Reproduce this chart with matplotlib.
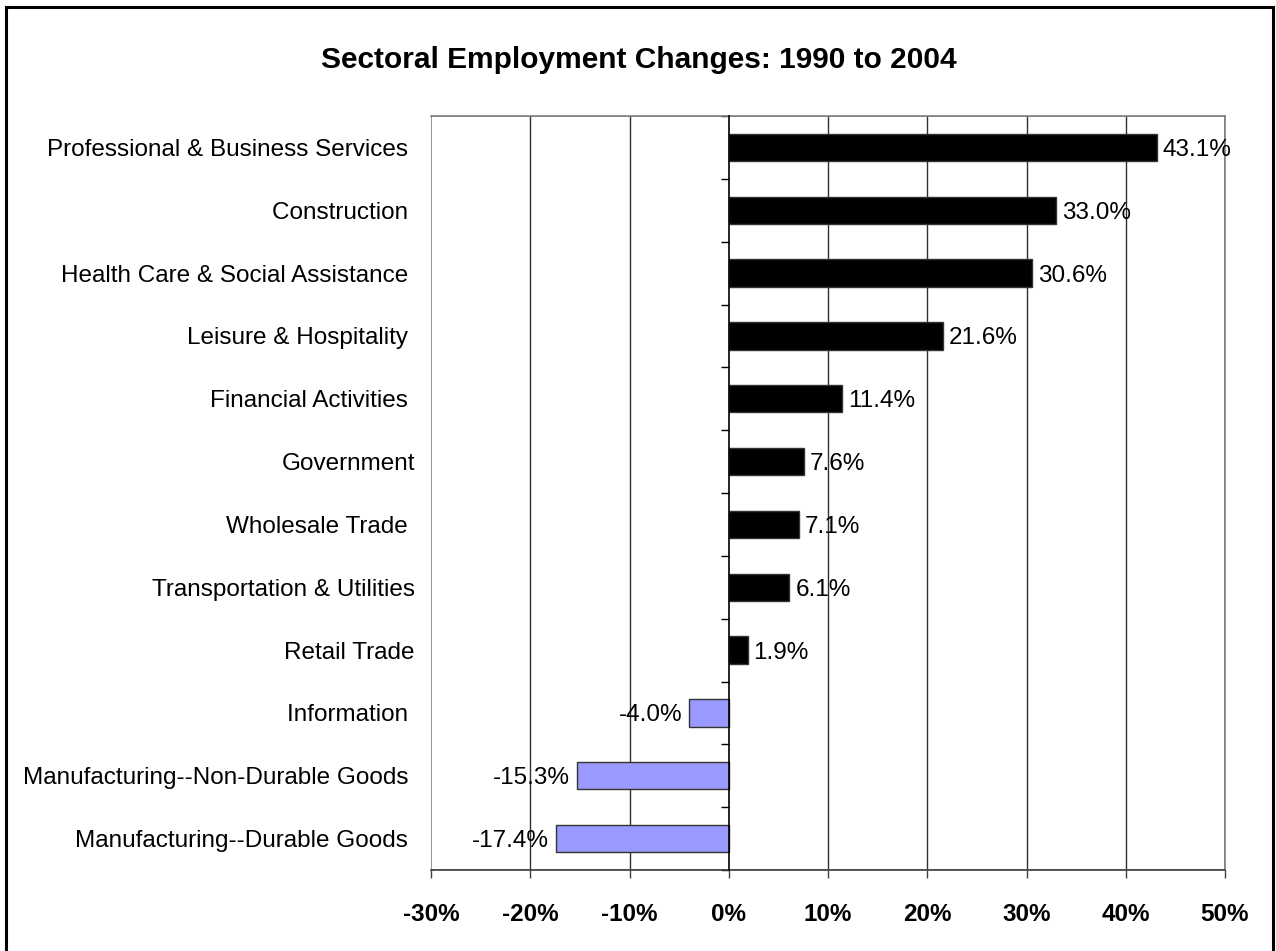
import matplotlib
matplotlib.use("Agg")
import matplotlib.pyplot as plt
from matplotlib.patches import Rectangle
from matplotlib.ticker import FuncFormatter
import numpy as np

plt.rcParams['font.family'] = ['Liberation Sans', 'DejaVu Sans']

# Sectors listed top to bottom, with percent change in employment 1990-2004
sectors = [
    "Professional & Business Services ",
    "Construction ",
    "Health Care & Social Assistance ",
    "Leisure & Hospitality ",
    "Financial Activities ",
    "Government",
    "Wholesale Trade ",
    "Transportation & Utilities",
    "Retail Trade",
    "Information ",
    "Manufacturing--Non-Durable Goods ",
    "Manufacturing--Durable Goods ",
]
changes = [43.1, 33.0, 30.6, 21.6, 11.4, 7.6, 7.1, 6.1, 1.9, -4.0, -15.3, -17.4]
x_ticks = [-30, -20, -10, 0, 10, 20, 30, 40, 50]

title = "Sectoral Employment Changes: 1990 to 2004"

W, H = 1276, 951
fig = plt.figure(figsize=(W / 100, H / 100), dpi=100)
fig.patch.set_facecolor("white")

# outer chart border (runs past the lower edge of the image)
fig.add_artist(Rectangle((6 / W, -20 / H), (1273 - 6) / W, (944 + 20) / H,
                         transform=fig.transFigure, fill=False,
                         edgecolor="black", linewidth=2.2))

ax_l, ax_r, ax_t, ax_b = 431, 1225, 116, 870
ax = fig.add_axes([ax_l / W, 1 - ax_b / H, (ax_r - ax_l) / W, (ax_b - ax_t) / H])

n = len(sectors)
ypos = np.arange(n)
colors = ["black" if v >= 0 else "#9999FF" for v in changes]
ax.barh(ypos, changes, height=0.435, color=colors, edgecolor="#333333",
        linewidth=1.0, zorder=3)

ax.set_xlim(x_ticks[0], x_ticks[-1])
ax.set_ylim(n - 0.5, -0.5)

# vertical gridlines
for xt in x_ticks[1:-1]:
    if xt != 0:
        ax.axvline(xt, color="#303030", linewidth=1.0, zorder=1)

# spines: frame drawn in gray, value axis at zero
for s in ["top", "right", "bottom"]:
    ax.spines[s].set_color("#808080")
    ax.spines[s].set_linewidth(1.2)
ax.spines["bottom"].set_color("#404040")
ax.spines["left"].set_position(("data", 0))
ax.spines["left"].set_color("black")
ax.spines["left"].set_linewidth(1.2)
ax.spines["left"].set_zorder(4)
ax.add_patch(Rectangle((0, 0), 1, 1, transform=ax.transAxes, fill=False,
                       edgecolor="#808080", linewidth=1.2, zorder=0.5))

# category boundary ticks on the zero axis
ax.set_yticks(np.arange(-0.5, n, 1.0))
ax.set_yticklabels([])
ax.tick_params(axis="y", direction="out", length=6, width=1.0, color="black")

ax.set_xticks(x_ticks)
ax.xaxis.set_major_formatter(FuncFormatter(lambda v, p: f"{v:.0f}%"))
ax.tick_params(axis="x", direction="out", length=6, width=1.0,
               color="#404040", pad=18, labelsize=17.5)
for lab in ax.get_xticklabels():
    lab.set_fontweight("bold")

# category names to the left of the plot area
for y, name in zip(ypos, sectors):
    ax.annotate(name, xy=(0, y), xycoords=("axes fraction", "data"),
                xytext=(-16, 0), textcoords="offset pixels",
                ha="right", va="center_baseline", fontsize=17.5)

# value labels at the bar ends
for y, v in zip(ypos, changes):
    off = 6 if v >= 0 else -7
    ax.annotate(f"{v:.1f}%", xy=(v, y), xytext=(off, 0),
                textcoords="offset pixels",
                ha="left" if v >= 0 else "right", va="center_baseline",
                fontsize=17.5, zorder=5)

fig.text(639 / W, 1 - 57 / H, title, ha="center", va="center_baseline",
         fontsize=21.5, fontweight="bold")

fig.savefig("out.png", dpi=100)
